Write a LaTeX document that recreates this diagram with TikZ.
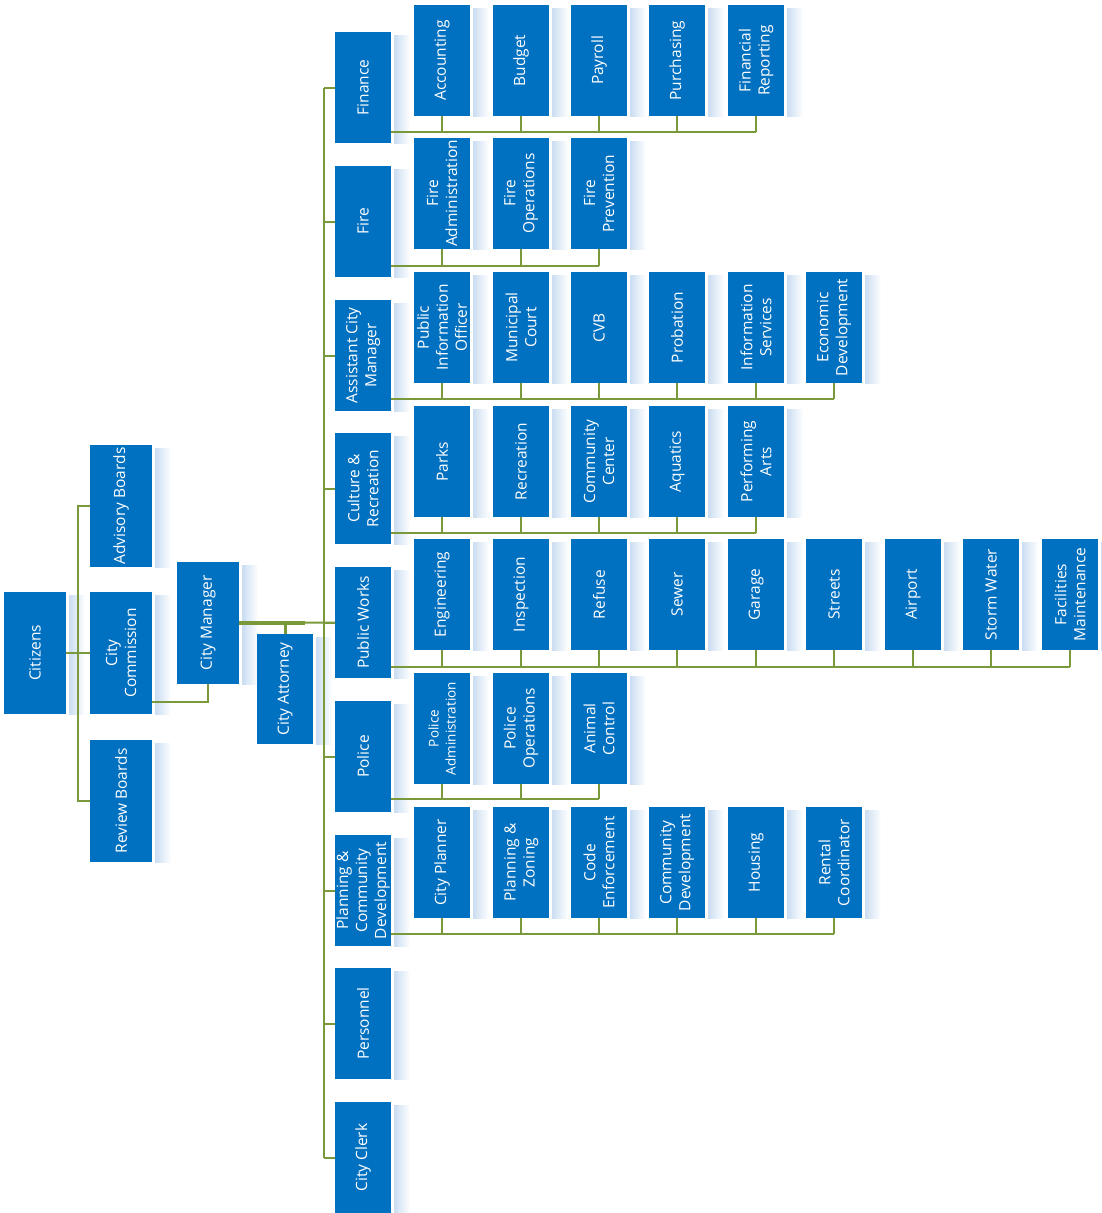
\documentclass[tikz,border=0pt]{standalone}
\usepackage{fontspec}
\setmainfont{Open Sans}
\definecolor{boxblue}{RGB}{0,112,192}
\definecolor{lnk}{RGB}{122,153,58}
\definecolor{shb}{RGB}{202,221,241}
\tikzset{
  box/.style={fill=boxblue, draw=none, inner sep=0pt, outer sep=0pt},
  lbl/.style={rotate=90, align=center, text=white, inner sep=0pt,
              font=\fontsize{15.5}{19}\selectfont},
  conn/.style={draw=lnk, line width=2pt},
}
% #1 options of label, #2 name, #3 x, #4 y(top), #5 w, #6 h, #7 text
\newcommand\bx[7][]{%
  \shade[left color=shb, right color=white] ({#3+#5+3},{-#4-3}) rectangle ({#3+#5+19},{-#4-#6});
  \node[box, minimum width=#5, minimum height=#6, anchor=north west] (#2) at (#3,-#4) {};
  \begin{scope}
    \clip (#3,-#4) rectangle ({#3+#5},{-#4-#6});
    \node[lbl,#1] (#2-t) at (#2.center) {#7};
  \end{scope}
}
\begin{document}
\begin{tikzpicture}[x=1pt,y=1pt]
\useasboundingbox (0,0) rectangle (1101,-1213);

% left part
\bx{cit}{4}{592}{62}{122}{Citizens}
\bx{adv}{90}{445}{62}{122}{Advisory Boards}
\bx{com}{90}{592}{62}{122}{City\\Commission}
\bx{rev}{90}{740}{62}{122}{Review Boards}
\bx{cm}{177}{562}{62}{122}{City Manager}
\bx{ca}{257}{634}{56}{110}{City Attorney}

% departments
\bx{fin}{335}{32}{56}{111}{Finance}
\bx{fire}{335}{166}{56}{111}{Fire}
\bx{acm}{335}{300}{56}{111}{Assistant City\\Manager}
\bx{cr}{335}{433}{56}{111}{Culture \&\\Recreation}
\bx{pw}{335}{567}{56}{111}{Public Works}
\bx{pol}{335}{701}{56}{111}{Police}
\bx{pcd}{335}{835}{56}{111}{Planning \&\\Community\\Development}
\bx{per}{335}{968}{56}{111}{Personnel}
\bx{clk}{335}{1102}{56}{111}{City Clerk}

% Finance row
\bx{acc}{414}{5}{56}{111}{Accounting}
\bx{bud}{493}{5}{56}{111}{Budget}
\bx{pay}{571}{5}{56}{111}{Payroll}
\bx{pur}{649}{5}{56}{111}{Purchasing}
\bx{frep}{728}{5}{56}{111}{Financial\\Reporting}

% Fire row
\bx{fadm}{414}{138}{56}{111}{Fire\\Administration}
\bx{fops}{493}{138}{56}{111}{Fire\\Operations}
\bx{fprev}{571}{138}{56}{111}{Fire\\Prevention}

% Assistant City Manager row
\bx{pio}{414}{272}{56}{111}{Public\\Information\\Officer}
\bx{mct}{493}{272}{56}{111}{Municipal\\Court}
\bx{cvb}{571}{272}{56}{111}{CVB}
\bx{prob}{649}{272}{56}{111}{Probation}
\bx{info}{728}{272}{56}{111}{Information\\Services}
\bx{econ}{806}{272}{56}{111}{Economic\\Development}

% Culture & Recreation row
\bx{parks}{414}{406}{56}{111}{Parks}
\bx{recr}{493}{406}{56}{111}{Recreation}
\bx{ccen}{571}{406}{56}{111}{Community\\Center}
\bx{aqua}{649}{406}{56}{111}{Aquatics}
\bx{parts}{728}{406}{56}{111}{Performing\\Arts}

% Public Works row
\bx{eng}{414}{539}{56}{111}{Engineering}
\bx{insp}{493}{539}{56}{111}{Inspection}
\bx{refu}{571}{539}{56}{111}{Refuse}
\bx{sew}{649}{539}{56}{111}{Sewer}
\bx{gar}{728}{539}{56}{111}{Garage}
\bx{str}{806}{539}{56}{111}{Streets}
\bx{air}{885}{539}{56}{111}{Airport}
\bx{storm}{963}{539}{56}{111}{Storm Water}
\bx{fac}{1042}{539}{56}{111}{Facilities\\Maintenance}

% Police row
\bx[font=\fontsize{13.5}{17}\selectfont]{padm}{414}{673}{56}{111}{Police\\Administration}
\bx{pops}{493}{673}{56}{111}{Police\\Operations}
\bx{anim}{571}{673}{56}{111}{Animal\\Control}

% Planning row
\bx{cpl}{414}{807}{56}{111}{City Planner}
\bx{pz}{493}{807}{56}{111}{Planning \&\\Zoning}
\bx{code}{571}{807}{56}{111}{Code\\Enforcement}
\bx{cdev}{649}{807}{56}{111}{Community\\Development}
\bx{hous}{728}{807}{56}{111}{Housing}
\bx{rent}{806}{807}{56}{111}{Rental\\Coordinator}

% ---------- connectors ----------
\coordinate (cbus) at (78,0);
\coordinate (bus) at (324,0);
\coordinate (comk) at (152,-702);
\coordinate (cmk) at (305,-623);
\coordinate (finL) at (0,-132);
\coordinate (fireL) at (0,-266);
\coordinate (acmL) at (0,-399);
\coordinate (crL) at (0,-533);
\coordinate (pwL) at (0,-667);
\coordinate (polL) at (0,-799);
\coordinate (pcdL) at (0,-934);

\draw[conn] (cit.east) -- (com.west);
\draw[conn] (adv.west) -- (adv.west -| cbus) -- (rev.west -| cbus) -- (rev.west);
\draw[conn] (comk) -| (cm.south);
\draw[conn] (cm.east) -- (pw.west);
\draw[conn, line width=3.6pt] (cm.east) -- (cmk);
\draw[conn, line width=3pt] (ca.north) -- (ca.north |- cm.east);

\draw[conn] (fin.west -| bus) -- (clk.west -| bus);
\foreach \n in {fin,fire,acm,cr,pw,pol,pcd,per,clk}
  \draw[conn] (\n.west -| bus) -- (\n.west);

\draw[conn] (fin.east |- finL) -- (frep.south |- finL);
\foreach \n in {acc,bud,pay,pur,frep} \draw[conn] (\n.south) -- (\n.south |- finL);

\draw[conn] (fire.east |- fireL) -- (fprev.south |- fireL);
\foreach \n in {fadm,fops,fprev} \draw[conn] (\n.south) -- (\n.south |- fireL);

\draw[conn] (acm.east |- acmL) -- (econ.south |- acmL);
\foreach \n in {pio,mct,cvb,prob,info,econ} \draw[conn] (\n.south) -- (\n.south |- acmL);

\draw[conn] (cr.east |- crL) -- (parts.south |- crL);
\foreach \n in {parks,recr,ccen,aqua,parts} \draw[conn] (\n.south) -- (\n.south |- crL);

\draw[conn] (pw.east |- pwL) -- (fac.south |- pwL);
\foreach \n in {eng,insp,refu,sew,gar,str,air,storm,fac} \draw[conn] (\n.south) -- (\n.south |- pwL);

\draw[conn] (pol.east |- polL) -- (anim.south |- polL);
\foreach \n in {padm,pops,anim} \draw[conn] (\n.south) -- (\n.south |- polL);

\draw[conn] (pcd.east |- pcdL) -- (rent.south |- pcdL);
\foreach \n in {cpl,pz,code,cdev,hous,rent} \draw[conn] (\n.south) -- (\n.south |- pcdL);

\end{tikzpicture}
\end{document}
